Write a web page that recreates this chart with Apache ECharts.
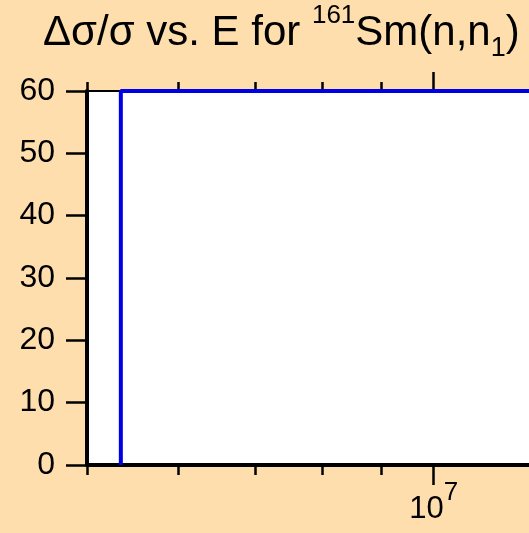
<!DOCTYPE html>
<html>
<head>
<meta charset="utf-8">
<script src="https://cdn.jsdelivr.net/npm/echarts@6/dist/echarts.min.js"></script>
<style>
  html, body { margin: 0; padding: 0; background: #ffdead; }
  #chart { width: 529px; height: 533px; }
</style>
</head>
<body>
<div id="chart"></div>
<script>
// energy (eV) and relative uncertainty (%) of the curve
const energy = [5.35e6, 5.35e6, 1.3e7];
const ratio = [0, 60, 60];
const minorTicks = [5e6, 6e6, 7e6, 8e6, 9e6];
const majorTicks = [1e7];
const yTicks = [0, 10, 20, 30, 40, 50, 60];

const font = 'Liberation Sans, Arial, sans-serif';
const chart = echarts.init(document.getElementById('chart'));

const xBase = {
  type: 'log',
  logBase: 10,
  min: 5e6,
  max: 1.21e7,
  splitLine: { show: false },
  axisLabel: { show: false },
  axisLine: { show: false },
  axisTick: { show: false },
};

chart.setOption({
  backgroundColor: '#ffdead',
  animation: false,
  title: {
    text: '{a|Δσ/σ vs. E for }{sup|161}{a|Sm(n,n}{sub|1}{a|)}',
    left: 43,
    top: 3,
    padding: 0,
    textStyle: {
      fontWeight: 'normal',
      rich: {
        a: { fontFamily: font, fontSize: 42, fontWeight: 'normal', color: '#000' },
        sup: { fontFamily: font, fontSize: 26, fontWeight: 'normal', color: '#000', padding: [0, 0, 34, 0] },
        sub: { fontFamily: font, fontSize: 27, fontWeight: 'normal', color: '#000', padding: [32, 0, 0, 0] },
      },
    },
  },
  grid: {
    left: 87, top: 91, right: 0, bottom: 68,
    show: true, backgroundColor: '#fff', borderWidth: 0,
  },
  xAxis: [
    Object.assign({}, xBase, {
      position: 'bottom',
      axisLine: { show: true, lineStyle: { color: '#000', width: 4 } },
      axisTick: { show: true, customValues: minorTicks, length: 10, lineStyle: { color: '#000', width: 2.5 } },
    }),
    Object.assign({}, xBase, {
      position: 'bottom',
      axisTick: { show: true, customValues: majorTicks, length: 20, lineStyle: { color: '#000', width: 2.5 } },
      axisLabel: {
        show: true,
        customValues: majorTicks,
        margin: 15,
        formatter: () => '{b|10}{s|7}',
        rich: {
          b: { fontFamily: font, fontSize: 31, color: '#000' },
          s: { fontFamily: font, fontSize: 26, color: '#000', padding: [0, 0, 32, 0] },
        },
      },
    }),
    Object.assign({}, xBase, {
      position: 'top',
      axisLine: { show: true, lineStyle: { color: '#000', width: 2 } },
      axisTick: { show: true, customValues: minorTicks, length: 9, lineStyle: { color: '#000', width: 2.5 } },
    }),
    Object.assign({}, xBase, {
      position: 'top',
      axisTick: { show: true, customValues: majorTicks, length: 19, lineStyle: { color: '#000', width: 2.5 } },
    }),
  ],
  yAxis: {
    type: 'value',
    min: 0,
    max: 60,
    interval: 10,
    splitLine: { show: false },
    axisLine: { show: true, lineStyle: { color: '#000', width: 4 } },
    axisTick: { show: true, length: 21, lineStyle: { color: '#000', width: 2.5 } },
    axisLabel: {
      margin: 32,
      fontFamily: font,
      fontSize: 32,
      color: '#000',
      customValues: yTicks,
    },
  },
  series: [{
    type: 'line',
    xAxisIndex: 0,
    data: energy.map((e, i) => [e, ratio[i]]),
    showSymbol: false,
    lineStyle: { color: '#0000e6', width: 4 },
    clip: true,
    z: 3,
  }],
});
</script>
</body>
</html>
